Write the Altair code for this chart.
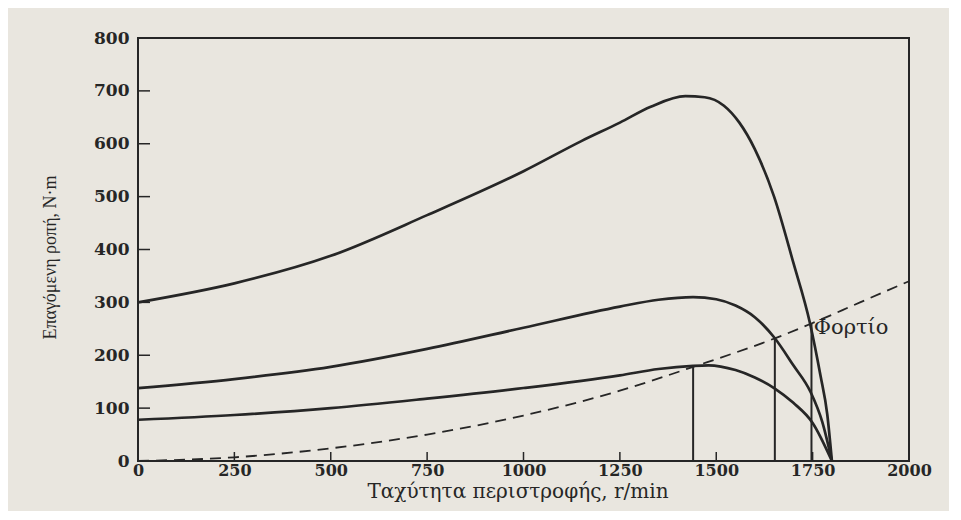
import altair as alt
import pandas as pd

# --- data -------------------------------------------------------------------
speed_high = [0, 250, 500, 750, 1000, 1150, 1250, 1330, 1420, 1470, 1520, 1560, 1600, 1650, 1700, 1743, 1770, 1788, 1800]
torque_high = [300, 336, 388, 465, 548, 605, 640, 670, 690, 688, 672, 640, 590, 500, 375, 261, 163, 88, 0]

speed_mid = [0, 250, 500, 750, 1000, 1250, 1350, 1440, 1500, 1550, 1600, 1650, 1700, 1745, 1775, 1800]
torque_mid = [138, 155, 178, 212, 252, 292, 305, 310, 306, 294, 272, 234, 181, 130, 74, 0]

speed_low = [0, 250, 500, 750, 1000, 1250, 1350, 1440, 1480, 1550, 1600, 1650, 1700, 1750, 1800]
torque_low = [78, 87, 100, 118, 138, 162, 174, 180, 181, 172, 158, 138, 110, 72, 0]

speed_load = [0, 250, 500, 750, 1000, 1250, 1440, 1652, 1747, 1873, 2000]
torque_load = [0, 7, 24, 50, 86, 133, 178, 232, 260, 300, 340]

drop_speed = [1440, 1652, 1747]
drop_torque = [178, 232, 260]

x_ticks = [0, 250, 500, 750, 1000, 1250, 1500, 1750, 2000]
y_ticks = [0, 100, 200, 300, 400, 500, 600, 700, 800]
x_inner_ticks = [250, 500, 750, 1000, 1250, 1500, 1750]
y_inner_ticks = [100, 200, 300, 400, 500, 600, 700]

load_label = ["Φορτίο"]
load_label_speed = [1753]
load_label_torque = [251]

x_title = "Ταχύτητα περιστροφής, r/min"
y_title = "Επαγόμενη ροπή, N·m"

# --- tables -------------------------------------------------------------------
rows = []
for name, s, t in [("high", speed_high, torque_high), ("mid", speed_mid, torque_mid), ("low", speed_low, torque_low)]:
    rows += [{"curve": name, "speed": a, "torque": b} for a, b in zip(s, t)]
curves = pd.DataFrame(rows)
load = pd.DataFrame({"speed": speed_load, "torque": torque_load})
drops = pd.DataFrame({"speed": drop_speed, "torque": drop_torque})
xt = pd.DataFrame({"speed": x_inner_ticks})
yt = pd.DataFrame({"torque": y_inner_ticks})
lbl = pd.DataFrame({"text": load_label, "speed": load_label_speed, "torque": load_label_torque})

W, H = 771, 423
INK = "#262626"
SERIF = "DejaVu Serif"
TIMES = "Liberation Serif"

xs = alt.Scale(domain=[0, 2000], nice=False, zero=False)
ys = alt.Scale(domain=[0, 800], nice=False)

x_axis = alt.Axis(values=x_ticks, format="d", title=x_title, grid=False, domain=False, ticks=False,
                  labelFont=SERIF, labelFontWeight="bold", labelFontSize=16, labelColor=INK,
                  labelPadding=1, labelFlush=False,
                  titleFont=SERIF, titleFontWeight="normal", titleFontSize=20, titleColor=INK,
                  titleX=W / 2 - 6, titleY=30, titleBaseline="middle")
y_axis = alt.Axis(values=y_ticks, format="d", title=y_title, grid=False, domain=False, ticks=False,
                  labelFont=SERIF, labelFontWeight="bold", labelFontSize=17, labelColor=INK,
                  labelPadding=9, labelFlush=False,
                  titleFont=TIMES, titleFontWeight="normal", titleFontSize=18, titleColor=INK,
                  titleX=-88, titleY=219, titleAngle=-90, titleBaseline="middle", titleAlign="center")

X = alt.X("speed:Q", scale=xs, axis=x_axis)
Y = alt.Y("torque:Q", scale=ys, axis=y_axis)

lines = alt.Chart(curves).mark_line(color=INK, strokeWidth=2.7, interpolate="monotone").encode(
    x=X, y=Y, detail="curve:N",
)

load_line = alt.Chart(load).mark_line(color=INK, strokeWidth=1.8, strokeDash=[11, 7], interpolate="monotone").encode(
    x=X, y=Y,
)

drop_rules = alt.Chart(drops).mark_rule(color=INK, strokeWidth=2).encode(
    x=X, y=Y, y2=alt.datum(0),
)

x_tick_rules = alt.Chart(xt).mark_rule(color=INK, strokeWidth=1.5).encode(
    x=X, y=alt.value(H), y2=alt.value(H - 9),
)

y_tick_rules = alt.Chart(yt).mark_rule(color=INK, strokeWidth=1.5).encode(
    y=Y, x=alt.value(0), x2=alt.value(12),
)

label = alt.Chart(lbl).mark_text(font=SERIF, fontSize=21, color=INK, align="left", baseline="middle").encode(
    x=X, y=Y, text="text:N",
)

chart = alt.layer(lines, load_line, drop_rules, x_tick_rules, y_tick_rules, label).properties(
    width=W,
    height=H,
    autosize=alt.AutoSizeParams(type="none"),
    padding={"left": 130, "top": 30, "right": 40, "bottom": 50},
    background="#e9e6df",
).configure_view(stroke=INK, strokeWidth=2)

chart.save("out.html", embed_options={"renderer": "svg", "actions": False})
